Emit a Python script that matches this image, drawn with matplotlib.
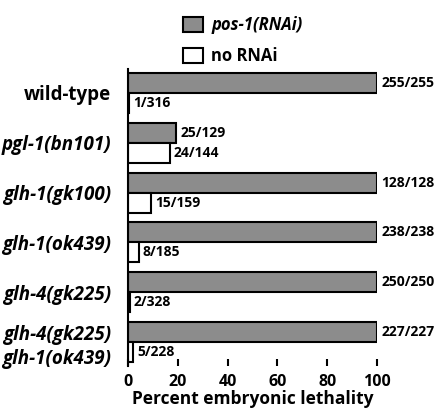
import numpy as np
import matplotlib.pyplot as plt
from matplotlib.patches import Patch

plt.rcParams['font.family'] = ['Open Sans', 'DejaVu Sans']
plt.rcParams['font.weight'] = 'bold'

genotypes = ["wild-type", "pgl-1(bn101)", "glh-1(gk100)", "glh-1(ok439)",
             "glh-4(gk225)", "glh-4(gk225)\nglh-1(ok439)"]
italic = [False, True, True, True, True, True]

# dead embryos / total embryos
rnai_dead = [255, 25, 128, 238, 250, 227]
rnai_total = [255, 129, 128, 238, 250, 227]
ctrl_dead = [1, 24, 15, 8, 2, 5]
ctrl_total = [316, 144, 159, 185, 328, 228]

rnai_pct = [100.0 * d / t for d, t in zip(rnai_dead, rnai_total)]
ctrl_pct = [100.0 * d / t for d, t in zip(ctrl_dead, ctrl_total)]

pos = np.arange(len(genotypes))
h = 0.4

fig = plt.figure(figsize=(4.42, 4.15), dpi=100)
ax = fig.add_axes([128 / 442, 1 - 366 / 415, 249 / 442, 297 / 415])

b1 = ax.barh(pos - h / 2, rnai_pct, h, color='#8c8c8c', edgecolor='black', linewidth=1.5)
b2 = ax.barh(pos + h / 2, ctrl_pct, h, color='white', edgecolor='black', linewidth=1.5)

ax.bar_label(b1, labels=["%d/%d" % (d, t) for d, t in zip(rnai_dead, rnai_total)],
             padding=3, fontsize=10, fontweight='bold', clip_on=False)
ax.bar_label(b2, labels=["%d/%d" % (d, t) for d, t in zip(ctrl_dead, ctrl_total)],
             padding=3, fontsize=10, fontweight='bold', clip_on=False)

ax.set_xlim(0, 100)
ax.set_ylim(5.48, -0.48)
ax.set_yticks(pos)
ax.set_yticklabels(genotypes, fontsize=13.5, fontweight='bold', linespacing=1.3)
for lab, it in zip(ax.get_yticklabels(), italic):
    if it:
        lab.set_style('italic')
ax.tick_params(axis='y', length=0, pad=12)
ax.set_xticks([0, 20, 40, 60, 80, 100])
ax.tick_params(axis='x', direction='in', length=5, width=1.5, pad=6, labelsize=11.5)

for s in ['top', 'right', 'bottom']:
    ax.spines[s].set_visible(False)
ax.spines['left'].set_linewidth(1.5)

ax.set_xlabel("Percent embryonic lethality", fontsize=12.5, fontweight='bold', labelpad=0)

handles = [Patch(facecolor='#8c8c8c', edgecolor='black', linewidth=1.5),
           Patch(facecolor='white', edgecolor='black', linewidth=1.5)]
leg = fig.legend(handles, ["pos-1(RNAi)", "no RNAi"], loc='upper left',
                 bbox_to_anchor=(168 / 442, 1 - 1 / 415), frameon=False,
                 prop={'size': 12, 'weight': 'bold'}, handlelength=1.2,
                 handleheight=1.0, labelspacing=0.8, handletextpad=0.5)
leg.get_texts()[0].set_style('italic')

fig.savefig("out.png", dpi=100)
